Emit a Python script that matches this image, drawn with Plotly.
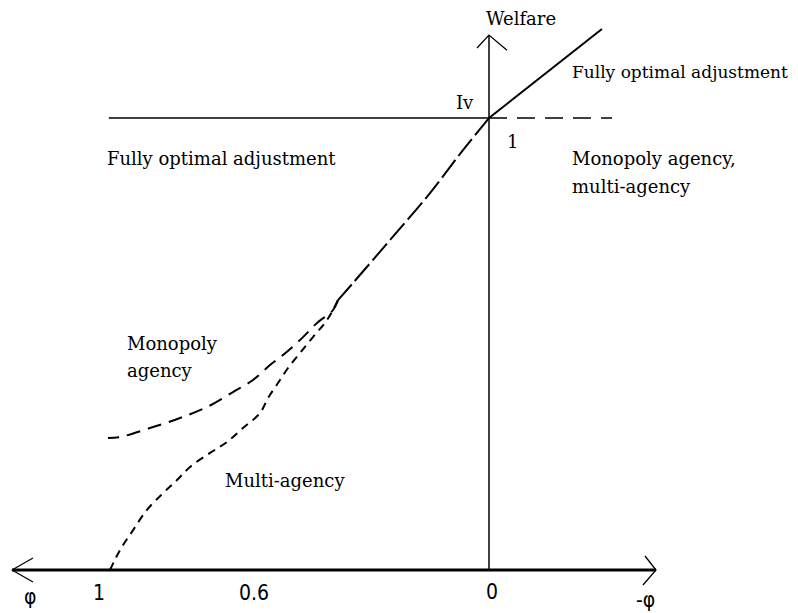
import plotly.graph_objects as go

# ---- data (phi on horizontal axis, welfare on vertical axis) ----
# common dashed segment from origin down-left
common_phi = [0.0, 0.0686, 0.1557, 0.2612, 0.3588, 0.3984]
common_w = [1.0, 0.929, 0.834, 0.730, 0.635, 0.597]

# monopoly agency branch
mono_phi = [0.3984, 0.4116, 0.4538, 0.4987, 0.5435, 0.5778, 0.6227, 0.6755, 0.7441,
            0.8153, 0.8945, 0.9736, 1.0053]
mono_w = [0.597, 0.5752, 0.5465, 0.5088, 0.4757, 0.4535, 0.4204, 0.3938, 0.3606,
          0.3363, 0.3142, 0.2942, 0.2920]

# multi-agency branch
multi_phi = [0.3984, 0.4274, 0.4644, 0.4987, 0.5303, 0.5567, 0.5831, 0.6042, 0.6491,
             0.6913, 0.7361, 0.7889, 0.8232, 0.8602, 0.9024, 0.9393, 0.9736, 1.0]
multi_w = [0.597, 0.5531, 0.5155, 0.4801, 0.4469, 0.4137, 0.3805, 0.3473, 0.3142,
           0.2832, 0.259, 0.228, 0.199, 0.170, 0.133, 0.088, 0.044, 0.0]

# fully optimal adjustment (right of origin, solid)
opt_phi = [0.0, -0.298]
opt_w = [1.0, 1.197]

# horizontal welfare level 1 (solid left, dashed right)
level_left_phi = [1.003, 0.0]
level_right_phi = [0.0, -0.3245]
level_w = 1.0

# axes
xaxis_phi = [1.2586, -0.4406]
yaxis_w = [0.0, 1.1836]
left_arrow_phi = [1.2032, 1.2586, 1.2032]
left_arrow_w = [0.0265, 0.0, -0.0265]
right_arrow_phi = [-0.4116, -0.4406, -0.4063]
right_arrow_w = [0.031, 0.0, -0.0332]
up_arrow_phi = [0.0317, 0.0, -0.0475]
up_arrow_w = [1.1549, 1.1836, 1.150]

# tick labels along the horizontal axis
tick_text = ["φ", "1", "0.6", "0", "-φ"]
tick_phi = [1.2111, 1.029, 0.620, -0.0079, -0.4142]
tick_w = [-0.0597, -0.0509, -0.0509, -0.0487, -0.0664]

# text labels (left-anchored)
label_text = ["Fully optimal adjustment", "Fully optimal adjustment", "Monopoly agency,",
              "multi-agency", "Monopoly", "agency", "Multi-agency"]
label_phi = [-0.2137, 1.0132, -0.2137, -0.2137, 0.9604, 0.9604, 0.7018]
label_w = [1.1018, 0.9115, 0.9115, 0.8496, 0.5022, 0.4425, 0.1991]
label_size = [17, 18, 18, 18, 18, 18, 18]

# centred labels
center_text = ["Welfare", "Iv", "1"]
center_phi = [-0.0844, 0.0633, -0.0607]
center_w = [1.221, 1.0354, 0.9491]

fig = go.Figure()

def line(x, y, width=1.5, dash="solid", shape="linear"):
    fig.add_trace(go.Scatter(x=x, y=y, mode="lines", hoverinfo="skip", cliponaxis=False,
                             line=dict(color="black", width=width, dash=dash, shape=shape),
                             showlegend=False))

# axes
line(xaxis_phi, [0, 0], width=3)
line([0, 0], yaxis_w, width=1.5)
line(left_arrow_phi, left_arrow_w, width=1.3)
line(right_arrow_phi, right_arrow_w, width=1.3)
line(up_arrow_phi, up_arrow_w, width=1.3)

# level line
line(level_left_phi, [level_w, level_w], width=1.5)
line(level_right_phi, [level_w, level_w], width=1.5, dash="18px,10px")

# curves
line(opt_phi, opt_w, width=2)
line(common_phi, common_w, width=2, dash="22px,5px", shape="spline")
line(mono_phi, mono_w, width=2, dash="14px,8px", shape="spline")
line(multi_phi, multi_w, width=2, dash="8px,6px", shape="spline")

serif = "DejaVu Serif, Liberation Serif, serif"
narrow = "Liberation Sans Narrow, DejaVu Sans Condensed, sans-serif"

for t, px, wy in zip(tick_text, tick_phi, tick_w):
    fig.add_annotation(x=px, y=wy, text=t, showarrow=False, xanchor="center", yanchor="middle",
                       font=dict(family=narrow, size=21, color="black"))

for t, px, wy, s in zip(label_text, label_phi, label_w, label_size):
    fig.add_annotation(x=px, y=wy, text=t, showarrow=False, xanchor="left", yanchor="middle",
                       font=dict(family=serif, size=s, color="black"))

for t, px, wy in zip(center_text, center_phi, center_w):
    fig.add_annotation(x=px, y=wy, text=t, showarrow=False, xanchor="center", yanchor="middle",
                       font=dict(family=serif, size=18, color="black"))

# page body has an 8px margin, so the figure is 8px smaller and its ranges start 8px in
fig.update_layout(
    width=790, height=605,
    margin=dict(l=0, r=0, t=0, b=0),
    paper_bgcolor="white", plot_bgcolor="white",
    xaxis=dict(range=[1.2691, -0.8153], visible=False, fixedrange=True),
    yaxis=dict(range=[-0.0951, 1.2434], visible=False, fixedrange=True),
)

fig.write_html("out.html")
